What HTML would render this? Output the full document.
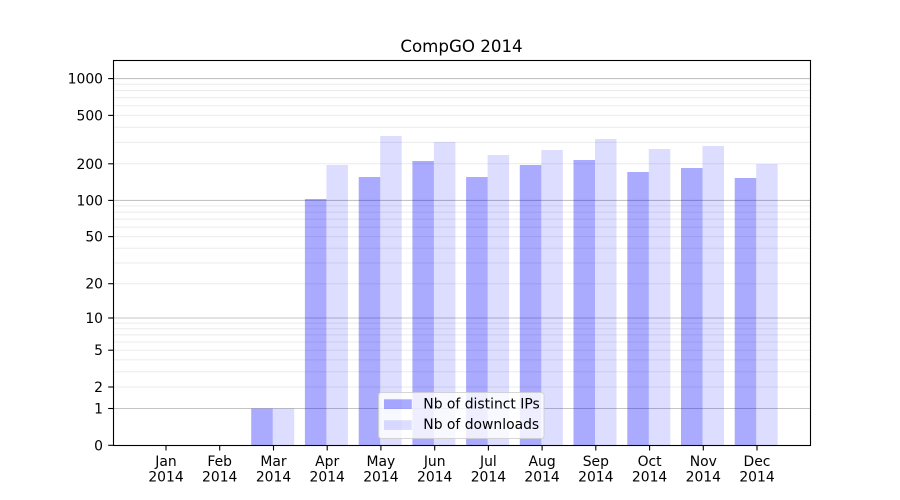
<!DOCTYPE html>
<html>
<head>
<meta charset="utf-8">
<style>
  html, body { margin:0; padding:0; background:#ffffff; }
  svg { display:block; }
  text { font-family: "DejaVu Sans", "Liberation Sans", sans-serif; fill:#000; }
</style>
</head>
<body>
<svg width="900" height="500" viewBox="0 0 900 500" xmlns="http://www.w3.org/2000/svg">
  <rect x="0" y="0" width="900" height="500" fill="#ffffff"/>

  <!-- minor gridlines -->
  <g stroke="#ebebeb" stroke-width="1">
    <line x1="113" x2="810" y1="371.7" y2="371.7"/>
    <line x1="113" x2="810" y1="359.9" y2="359.9"/>
    <line x1="113" x2="810" y1="342.0" y2="342.0"/>
    <line x1="113" x2="810" y1="334.9" y2="334.9"/>
    <line x1="113" x2="810" y1="328.7" y2="328.7"/>
    <line x1="113" x2="810" y1="323.1" y2="323.1"/>
    <line x1="113" x2="810" y1="263.0" y2="263.0"/>
    <line x1="113" x2="810" y1="248.2" y2="248.2"/>
    <line x1="113" x2="810" y1="227.1" y2="227.1"/>
    <line x1="113" x2="810" y1="219.1" y2="219.1"/>
    <line x1="113" x2="810" y1="212.1" y2="212.1"/>
    <line x1="113" x2="810" y1="205.9" y2="205.9"/>
    <line x1="113" x2="810" y1="142.4" y2="142.4"/>
    <line x1="113" x2="810" y1="127.2" y2="127.2"/>
    <line x1="113" x2="810" y1="105.7" y2="105.7"/>
    <line x1="113" x2="810" y1="97.6" y2="97.6"/>
    <line x1="113" x2="810" y1="90.5" y2="90.5"/>
    <line x1="113" x2="810" y1="84.2" y2="84.2"/>
    <!-- light major (2,5,20,50,200,500) -->
    <line x1="113" x2="810" y1="387.0" y2="387.0"/>
    <line x1="113" x2="810" y1="350.2" y2="350.2"/>
    <line x1="113" x2="810" y1="283.7" y2="283.7"/>
    <line x1="113" x2="810" y1="236.6" y2="236.6"/>
    <line x1="113" x2="810" y1="163.8" y2="163.8"/>
    <line x1="113" x2="810" y1="115.4" y2="115.4"/>
  </g>
  <!-- decade gridlines -->
  <g stroke="#c4c4c4" stroke-width="1.1">
    <line x1="113" x2="810" y1="408.5" y2="408.5"/>
    <line x1="113" x2="810" y1="318.0" y2="318.0"/>
    <line x1="113" x2="810" y1="200.4" y2="200.4"/>
    <line x1="113" x2="810" y1="78.6" y2="78.6"/>
  </g>

  <!-- bars: IP (blue alpha .33) -->
  <g fill="#0000ff" fill-opacity="0.333">
    <rect x="251.2" y="408.5" width="21.5" height="37"/>
    <rect x="304.9" y="199" width="21.5" height="246.3"/>
    <rect x="358.7" y="177" width="21.5" height="268.3"/>
    <rect x="412.4" y="161" width="21.5" height="284.3"/>
    <rect x="466.1" y="177" width="21.5" height="268.3"/>
    <rect x="519.8" y="165" width="21.5" height="280.3"/>
    <rect x="573.5" y="160" width="21.5" height="285.3"/>
    <rect x="627.3" y="172" width="21.5" height="273.3"/>
    <rect x="681.0" y="168" width="21.5" height="277.3"/>
    <rect x="734.7" y="178" width="21.5" height="267.3"/>
  </g>
  <!-- bars: downloads (blue alpha .133) -->
  <g fill="#0000ff" fill-opacity="0.135">
    <rect x="272.7" y="408.5" width="21.5" height="37"/>
    <rect x="326.4" y="165" width="21.5" height="280.3"/>
    <rect x="380.2" y="136" width="21.5" height="309.3"/>
    <rect x="433.9" y="142" width="21.5" height="303.3"/>
    <rect x="487.6" y="155" width="21.5" height="290.3"/>
    <rect x="541.3" y="150" width="21.5" height="295.3"/>
    <rect x="595.0" y="139" width="21.5" height="306.3"/>
    <rect x="648.8" y="149" width="21.5" height="296.3"/>
    <rect x="702.5" y="146" width="21.5" height="299.3"/>
    <rect x="756.2" y="164" width="21.5" height="281.3"/>
  </g>

  <!-- axes frame -->
  <rect x="113.5" y="60.5" width="697" height="385" fill="none" stroke="#000" stroke-width="1.1"/>

  <!-- y ticks -->
  <g stroke="#000" stroke-width="1.1">
    <line x1="108.2" x2="113" y1="445.3" y2="445.3"/>
    <line x1="108.2" x2="113" y1="408.5" y2="408.5"/>
    <line x1="108.2" x2="113" y1="387.0" y2="387.0"/>
    <line x1="108.2" x2="113" y1="350.2" y2="350.2"/>
    <line x1="108.2" x2="113" y1="318.0" y2="318.0"/>
    <line x1="108.2" x2="113" y1="283.7" y2="283.7"/>
    <line x1="108.2" x2="113" y1="236.6" y2="236.6"/>
    <line x1="108.2" x2="113" y1="200.4" y2="200.4"/>
    <line x1="108.2" x2="113" y1="163.8" y2="163.8"/>
    <line x1="108.2" x2="113" y1="115.4" y2="115.4"/>
    <line x1="108.2" x2="113" y1="78.6" y2="78.6"/>
  </g>
  <g font-size="13.9" text-anchor="end">
    <text x="103" y="450.3">0</text>
    <text x="103" y="413.5">1</text>
    <text x="103" y="392.0">2</text>
    <text x="103" y="355.2">5</text>
    <text x="103" y="323.0">10</text>
    <text x="103" y="288.7">20</text>
    <text x="103" y="241.6">50</text>
    <text x="103" y="205.4">100</text>
    <text x="103" y="168.8">200</text>
    <text x="103" y="120.4">500</text>
    <text x="103" y="83.6">1000</text>
  </g>

  <!-- x ticks -->
  <g stroke="#000" stroke-width="1.1">
    <line x1="166.0" x2="166.0" y1="446" y2="450.5"/>
    <line x1="219.7" x2="219.7" y1="446" y2="450.5"/>
    <line x1="273.5" x2="273.5" y1="446" y2="450.5"/>
    <line x1="327.2" x2="327.2" y1="446" y2="450.5"/>
    <line x1="380.9" x2="380.9" y1="446" y2="450.5"/>
    <line x1="434.7" x2="434.7" y1="446" y2="450.5"/>
    <line x1="488.4" x2="488.4" y1="446" y2="450.5"/>
    <line x1="542.1" x2="542.1" y1="446" y2="450.5"/>
    <line x1="595.8" x2="595.8" y1="446" y2="450.5"/>
    <line x1="649.6" x2="649.6" y1="446" y2="450.5"/>
    <line x1="703.3" x2="703.3" y1="446" y2="450.5"/>
    <line x1="757.0" x2="757.0" y1="446" y2="450.5"/>
  </g>
  <g font-size="13.9" text-anchor="middle">
    <text x="166.0" y="466">Jan</text><text x="166.0" y="481.7">2014</text>
    <text x="219.7" y="466">Feb</text><text x="219.7" y="481.7">2014</text>
    <text x="273.5" y="466">Mar</text><text x="273.5" y="481.7">2014</text>
    <text x="327.2" y="466">Apr</text><text x="327.2" y="481.7">2014</text>
    <text x="380.9" y="466">May</text><text x="380.9" y="481.7">2014</text>
    <text x="434.7" y="466">Jun</text><text x="434.7" y="481.7">2014</text>
    <text x="488.4" y="466">Jul</text><text x="488.4" y="481.7">2014</text>
    <text x="542.1" y="466">Aug</text><text x="542.1" y="481.7">2014</text>
    <text x="595.8" y="466">Sep</text><text x="595.8" y="481.7">2014</text>
    <text x="649.6" y="466">Oct</text><text x="649.6" y="481.7">2014</text>
    <text x="703.3" y="466">Nov</text><text x="703.3" y="481.7">2014</text>
    <text x="757.0" y="466">Dec</text><text x="757.0" y="481.7">2014</text>
  </g>

  <!-- title -->
  <text x="461.5" y="52" font-size="16.67" text-anchor="middle">CompGO 2014</text>

  <!-- legend -->
  <rect x="378.5" y="392.5" width="165.5" height="46" rx="2.8" ry="2.8" fill="#ffffff" fill-opacity="0.8" stroke="#cccccc" stroke-opacity="0.8" stroke-width="1"/>
  <rect x="384" y="399.3" width="27.8" height="9.7" fill="#0000ff" fill-opacity="0.333"/>
  <rect x="384" y="420.2" width="27.8" height="9.7" fill="#0000ff" fill-opacity="0.135"/>
  <text x="423.3" y="408.3" font-size="13.9">Nb of distinct IPs</text>
  <text x="423.3" y="429.2" font-size="13.9">Nb of downloads</text>
</svg>
</body>
</html>
